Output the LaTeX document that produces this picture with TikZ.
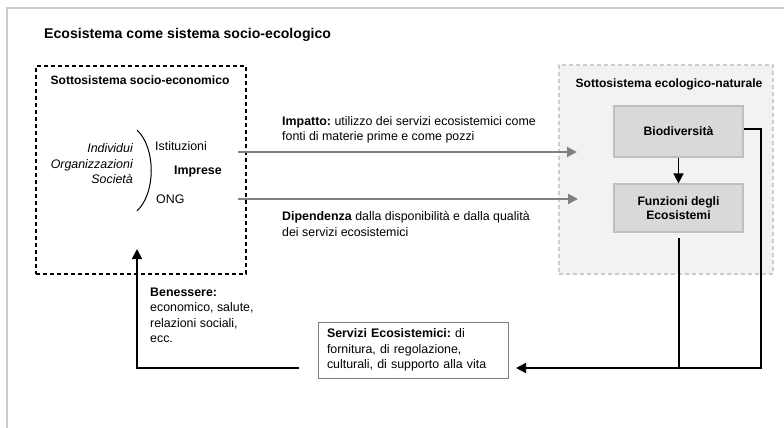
\documentclass[tikz,border=0pt]{standalone}
\usepackage{fontspec}
\setmainfont{Liberation Sans}
\usetikzlibrary{arrows.meta}
\frenchspacing
\definecolor{framegray}{HTML}{CCCCCC}
\definecolor{ecofill}{HTML}{F2F2F2}
\definecolor{ecoborder}{HTML}{CDCDCD}
\definecolor{boxfill}{HTML}{D9D9D9}
\definecolor{boxborder}{HTML}{BFBFBF}
\definecolor{arrowgray}{HTML}{808080}
\begin{document}
\begin{tikzpicture}[x=1pt,y=-1pt,
  body/.style={font=\fontsize{12.4}{15.5}\selectfont\frenchspacing, inner sep=0pt},
  titletext/.style={font=\fontsize{14.1}{17}\selectfont\bfseries, inner sep=0pt},
  headtext/.style={font=\fontsize{12.1}{15}\selectfont\bfseries, inner sep=0pt},
  graybox/.style={draw=boxborder, fill=boxfill, line width=1.2pt, minimum width=129pt, font=\fontsize{12.2}{14.5}\selectfont\bfseries, align=center},
  grayarrow/.style={draw=arrowgray, line width=2pt, -{Triangle[length=10pt,width=10pt]}},
  blackarrow/.style={draw=black, line width=1.6pt, -{Triangle[length=10pt,width=10pt]}},
  blackline/.style={draw=black, line width=1.6pt}
]
\useasboundingbox (0,0) rectangle (784,428);
% outer frame
\draw[framegray, line width=1.5pt] (7,428) -- (7,8) -- (784,8);

\node[titletext, anchor=west] (title) at (44,35) {Ecosistema come sistema socio-ecologico};

% socio-economic subsystem
\node[draw=black, dashed, dash pattern=on 4pt off 3pt, line width=1.3pt, minimum width=210pt, minimum height=208pt, inner sep=0pt] (soc) at (141,170) {};
\node[headtext] (soctitle) at (140,80) {Sottosistema socio-economico};
\node[body, font=\fontsize{12.4}{15.5}\selectfont\itshape, anchor=east, align=right] (ind) at (133,164) {Individui\\Organizzazioni\\Società};
\draw[line width=1pt] (137,130) .. controls (156,148) and (156,193) .. (137,211) coordinate (brk);
\node[body, anchor=west] (ist) at (155,146) {Istituzioni};
\node[body, font=\fontsize{12.4}{15}\selectfont\bfseries, anchor=west] (imp) at (174,172) {Imprese};
\node[body, anchor=west] (ong) at (156,199) {ONG};

% ecological subsystem
\node[draw=ecoborder, fill=ecofill, dashed, dash pattern=on 4pt off 3pt, line width=1.2pt, minimum width=214pt, minimum height=209pt, inner sep=0pt] (eco) at (666,169.5) {};
\node[headtext] (ecotitle) at (669,84) {Sottosistema ecologico-naturale};
\node[graybox, minimum height=51pt] (bio) at (678.5,131.5) {Biodiversità};
\node[graybox, minimum height=48pt] (fun) at (678.5,208) {Funzioni degli\\Ecosistemi};

% services box
\node[draw=arrowgray, fill=white, line width=1pt, minimum width=190pt, minimum height=56pt, text width=172pt, inner xsep=9pt, align=left, font=\fontsize{12.4}{15.5}\selectfont\frenchspacing] (serv) at (413,350) {\textbf{Servizi Ecosistemici:} di\\fornitura, di regolazione,\\culturali, di supporto alla vita};

% gray arrows
\coordinate (a1s) at (238,152);
\coordinate (a1e) at (577,152);
\coordinate (a2s) at (238,199);
\coordinate (a2e) at (578,199);
\draw[grayarrow] (a1s) -- (a1e);
\draw[grayarrow] (a2s) -- (a2e);
\node[body, anchor=west, align=left] (impatto) at (282,130) {\textbf{Impatto:} utilizzo dei servizi ecosistemici come\\fonti di materie prime e come pozzi};
\node[body, anchor=west, align=left] (dip) at (282,224) {\textbf{Dipendenza} dalla disponibilità e dalla qualità\\dei servizi ecosistemici};

% black connectors
\draw[blackarrow] (bio) -- (fun);
\coordinate (c1) at (761,129);
\coordinate (c2) at (761,368);
\coordinate (stip) at (516,368);
\draw[blackarrow] (bio.east |- c1) -- (c1) -- (c2) -- (stip);
\coordinate (fstart) at (679,238);
\draw[blackline] (fstart) -- (fstart |- c2);
\coordinate (l1) at (299,368);
\coordinate (l2) at (137,368);
\coordinate (ltip) at (137,249);
\draw[blackarrow] (l1) -- (l2) -- (ltip);

\node[body, anchor=west, align=left] (ben) at (150,315.5) {\textbf{Benessere:}\\economico, salute,\\relazioni sociali,\\ecc.};
\end{tikzpicture}
\end{document}
